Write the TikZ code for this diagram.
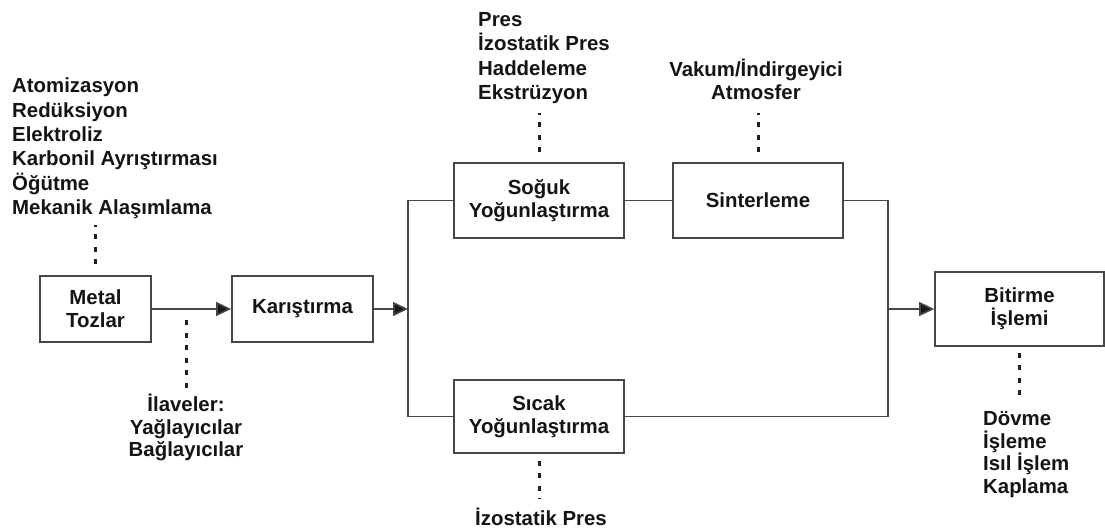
\documentclass[tikz,border=0pt]{standalone}
\usepackage{fontspec}
\setmainfont{Liberation Sans}
\usetikzlibrary{arrows.meta, positioning}

\tikzset{
  kutu/.style={draw=black!72, line width=1.7pt, align=center, inner sep=0pt, text=black!92},
  liste/.style={inner sep=0pt, text=black!92},
  hat/.style={draw=black!72, line width=1.6pt},
  ok/.style={hat, -{Triangle[length=15pt,width=14pt,fill=black!90]}},
  nokta/.style={draw=black!88, line width=3pt, dash pattern=on 5pt off 7.5pt}
}

\begin{document}
\begin{tikzpicture}[x=1pt, y=-1pt, font=\fontsize{20.4}{23}\selectfont\bfseries]
\useasboundingbox (0,0) rectangle (1105,531);
% kutular
\node[kutu, minimum width=111pt, minimum height=66pt] (metal) at (95.5,309) {Metal\\Tozlar};
\node[kutu, minimum width=141pt, minimum height=66pt] (karis) at (302.5,309) {Karıştırma};
\node[kutu, minimum width=170pt, minimum height=75pt] (soguk) at (539,200.5) {Soğuk\\Yoğunlaştırma};
\node[kutu, minimum width=170pt, minimum height=75pt] (sinter) at (758,200.5) {Sinterleme};
\node[kutu, minimum width=170pt, minimum height=73pt] (sicak) at (539,416.5) {Sıcak\\Yoğunlaştırma};
\node[kutu, minimum width=169pt, minimum height=74pt] (bitir) at (1019.5,309) {Bitirme\\İşlemi};
% listeler (base = son satir)
\node[liste, align=left, anchor=base west, font=\fontsize{20.4}{24.3}\selectfont\bfseries] (uretim) at (12,214.3)
  {Atomizasyon\\Redüksiyon\\Elektroliz\\Karbonil Ayrıştırması\\Öğütme\\Mekanik Alaşımlama};
\node[liste, align=center, anchor=base, font=\fontsize{20.4}{22.5}\selectfont\bfseries] (ilave) at (186,456.7)
  {İlaveler:\\Yağlayıcılar\\Bağlayıcılar};
\node[liste, align=left, anchor=base west, font=\fontsize{20.4}{24.2}\selectfont\bfseries] (sogukyol) at (478,99.3)
  {Pres\\İzostatik Pres\\Haddeleme\\Ekstrüzyon};
\node[liste, align=center, anchor=base] (atmosfer) at (756,99) {Vakum/İndirgeyici\\Atmosfer};
\node[liste, anchor=base] (sicakyol) at (541,525) {İzostatik Pres};
\node[liste, align=left, anchor=base west, font=\fontsize{20.4}{22.5}\selectfont\bfseries] (bitiryol) at (983,493)
  {Dövme\\İşleme\\Isıl İşlem\\Kaplama};
% dal noktalari
\coordinate (dalalt) at (408,416.5);
\coordinate (sag) at (888,416.5);
\coordinate (katki) at (186,309);
% baglantilar
\draw[ok] (metal) -- (karis);
\draw[ok] (karis.east) -- (karis.east -| dalalt);
\draw[hat] (soguk.west) -| (dalalt) -- (sicak.west);
\draw[hat] (soguk) -- (sinter);
\draw[hat] (sinter.east) -| (sag) -- (sicak.east);
\draw[ok] (sag |- bitir.west) -- (bitir.west);
% noktali cizgiler
\draw[nokta, shorten <=11pt, shorten >=6pt] (metal.north) -- (metal.north |- uretim.south);
\draw[nokta, shorten <=11pt] (katki) -- (ilave.north);
\draw[nokta, shorten <=10pt, shorten >=9pt] (soguk.north) -- (soguk.north |- sogukyol.south);
\draw[nokta, shorten <=10pt, shorten >=14pt] (sinter.north) -- (sinter.north |- atmosfer.south);
\draw[nokta, shorten <=7pt, shorten >=8pt] (sicak.south) -- (sicak.south |- sicakyol.north);
\draw[nokta, shorten <=6pt, shorten >=15pt] (bitir.south) -- (bitir.south |- bitiryol.north);
\end{tikzpicture}
\end{document}
